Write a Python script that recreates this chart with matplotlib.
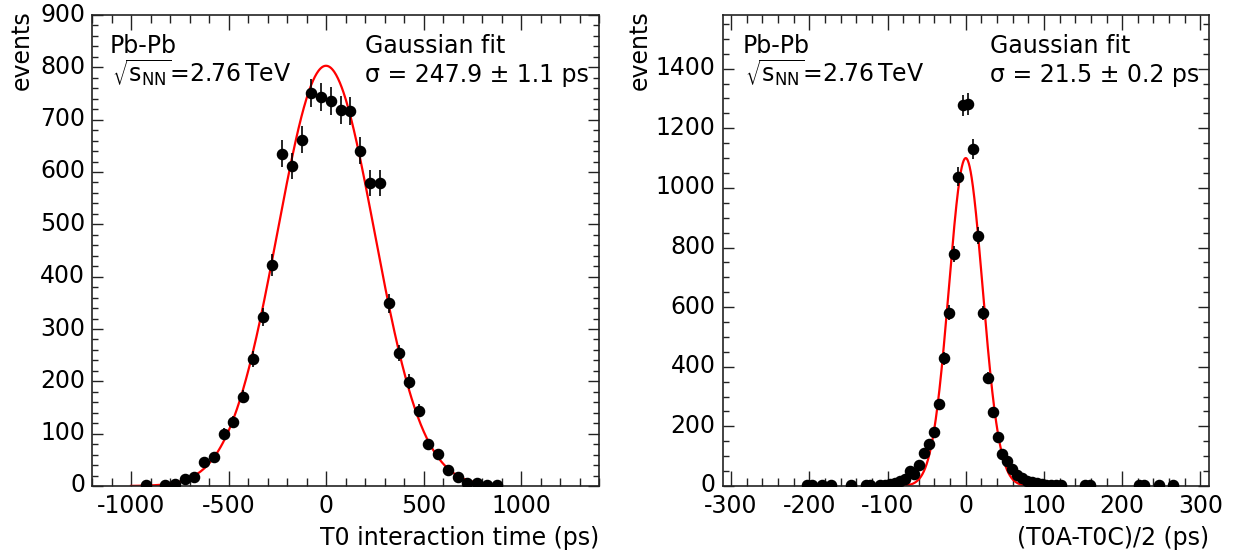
import numpy as np
import matplotlib
matplotlib.use("Agg")
import matplotlib.pyplot as plt
import matplotlib.transforms as mtransforms
from matplotlib.ticker import MultipleLocator

plt.rcParams['font.family'] = ['DejaVu Sans']
plt.rcParams['mathtext.fontset'] = 'dejavusans'
plt.rcParams['axes.unicode_minus'] = False

# ---- data: left panel (T0 interaction time) ----
left_x = [-925, -825, -775, -725, -675, -625, -575, -525, -475, -425, -375, -325,
          -275, -225, -175, -125, -75, -25, 25, 75, 125, 175, 225, 275, 325, 375,
          425, 475, 525, 575, 625, 675, 725, 775, 825, 875]
left_y = [1, 2, 4, 13, 17, 45, 55, 100, 123, 171, 243, 323,
          422, 635, 612, 662, 751, 743, 736, 718, 716, 641, 579, 579, 349, 254,
          199, 144, 80, 61, 31, 18, 5, 5, 2, 2]
left_fit = dict(amp=803.0, mean=0.0, sigma=247.9, lo=-1000.0, hi=870.0)

# ---- data: right panel ((T0A-T0C)/2) ----
right_x = [-203.1, -196.9, -184.4, -171.9, -146.9, -128.1, -121.9, -109.4, -103.1,
           -96.9, -90.6, -84.4, -78.1, -71.9, -65.6, -59.4, -53.1, -46.9, -40.6,
           -34.4, -28.1, -21.9, -15.6, -9.4, -3.1, 3.1, 9.4, 15.6, 21.9, 28.1, 34.4,
           40.6, 46.9, 53.1, 59.4, 65.6, 71.9, 78.1, 84.4, 90.6, 96.9, 103.1, 109.4,
           115.6, 121.9, 153.1, 159.4, 221.9, 228.1, 246.9, 265.6]
right_y = [2, 2, 2, 2, 3, 3, 3, 4, 5,
           7, 10, 17, 24, 49, 39, 72, 112, 142, 180,
           275, 428, 582, 778, 1037, 1277, 1281, 1131, 840, 581, 362, 248,
           163, 108, 83, 56, 37, 26, 18, 12, 9, 6, 5, 4,
           4, 3, 2, 2, 2, 2, 2, 2]
right_fit = dict(amp=1100.0, mean=0.0, sigma=21.5, lo=-80.0, hi=78.0)

left_text = ["Pb-Pb", r"$\sqrt{\mathrm{s}_{\mathrm{NN}}}$=2.76$\,$TeV", "Gaussian fit", "σ = 247.9 ± 1.1 ps"]
right_text = ["Pb-Pb", r"$\sqrt{\mathrm{s}_{\mathrm{NN}}}$=2.76$\,$TeV", "Gaussian fit", "σ = 21.5 ± 0.2 ps"]

W, H = 1241, 555
fig = plt.figure(figsize=(W / 100, H / 100), dpi=100)

FS = 17


def px_axes(l, r, t, b):
    return fig.add_axes([l / W, 1 - b / H, (r - l) / W, (b - t) / H])


def style(ax, xmaj, xmin, ymaj, ymin):
    ax.xaxis.set_major_locator(MultipleLocator(xmaj))
    ax.xaxis.set_minor_locator(MultipleLocator(xmin))
    ax.yaxis.set_major_locator(MultipleLocator(ymaj))
    ax.yaxis.set_minor_locator(MultipleLocator(ymin))
    ax.tick_params(axis='both', which='both', direction='in', top=True, right=True,
                   labelsize=FS, width=1.0, colors='#222222', labelcolor='black')
    ax.tick_params(axis='x', which='major', length=10.5, pad=5.5)
    ax.tick_params(axis='x', which='minor', length=5.5)
    ax.tick_params(axis='y', which='major', length=8, pad=5)
    ax.tick_params(axis='y', which='minor', length=4)
    for s in ax.spines.values():
        s.set_linewidth(1.2)
        s.set_color('#222222')
    # nudge y tick labels slightly upward (as in the reference)
    off = mtransforms.ScaledTranslation(0, 3 / 100, fig.dpi_scale_trans)
    for lab in ax.get_yticklabels():
        lab.set_transform(lab.get_transform() + off)


def draw(ax, xs, ys, fit):
    xs = np.asarray(xs, float)
    ys = np.asarray(ys, float)
    xf = np.linspace(fit['lo'], fit['hi'], 600)
    yf = fit['amp'] * np.exp(-0.5 * ((xf - fit['mean']) / fit['sigma']) ** 2)
    ax.plot(xf, yf, color='#ff0000', lw=1.6, zorder=2)
    ax.errorbar(xs, ys, yerr=np.sqrt(ys), fmt='o', color='black', ms=7.3,
                elinewidth=1.2, capsize=0, zorder=3)


# left panel
ax1 = px_axes(92, 599, 15, 486)
draw(ax1, left_x, left_y, left_fit)
ax1.set_xlim(-1200, 1400)
ax1.set_ylim(0, 900)
style(ax1, 500, 100, 100, 20)

# right panel
ax2 = px_axes(722.5, 1209, 15, 486)
draw(ax2, right_x, right_y, right_fit)
ax2.set_xlim(-311, 311)
ax2.set_ylim(0, 1580)
style(ax2, 100, 20, 200, 50)


def texts(ax, x0, x1, tx):
    fig.text(x0 / W, 1 - 53 / H, tx[0], fontsize=FS, ha='left', va='baseline')
    fig.text(x0 / W + 2 / W, 1 - 82 / H, tx[1], fontsize=FS, ha='left', va='baseline')
    fig.text(x1 / W, 1 - 53 / H, tx[2], fontsize=FS, ha='left', va='baseline')
    fig.text(x1 / W, 1 - 82 / H, tx[3], fontsize=FS, ha='left', va='baseline')


texts(ax1, 110, 365, left_text)
texts(ax2, 743, 990, right_text)

fig.text(599 / W, 1 - 545 / H, "T0 interaction time (ps)", fontsize=FS, ha='right', va='baseline')
fig.text(1209 / W, 1 - 545 / H, "(T0A-T0C)/2 (ps)", fontsize=FS, ha='right', va='baseline')
fig.text(22 / W, 1 - 10 / H, "events", fontsize=FS, rotation=90, ha='center', va='top')
fig.text(640 / W, 1 - 10 / H, "events", fontsize=FS, rotation=90, ha='center', va='top')

fig.savefig("out.png", dpi=100)
